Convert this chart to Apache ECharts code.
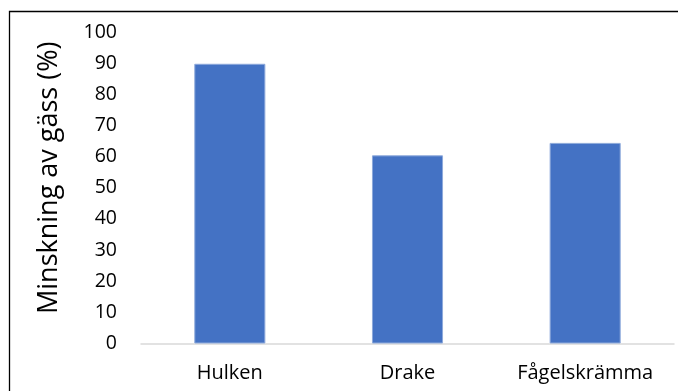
<!DOCTYPE html>
<html><head><meta charset="utf-8">
<script src="https://cdn.jsdelivr.net/npm/echarts@6/dist/echarts.min.js"></script>
<style>html,body{margin:0;padding:0;background:#fff}#c{width:678px;height:391px}</style>
</head><body><div id="c"></div>
<script>
const categories = ['Hulken', 'Drake', 'Fågelskrämma'];
const values = [89.8, 60.4, 64.4];
const yTitle = 'Minskning av gäss (%)';
const font = '"Open Sans", sans-serif';
const chart = echarts.init(document.getElementById('c'), null, {renderer: 'canvas'});
chart.setOption({
  animation: false,
  grid: {left: 141, right: 4, top: 32, bottom: 47.5},
  graphic: [{type: 'rect', shape: {x: 9.5, y: 11.5, width: 700, height: 420}, style: {fill: 'none', stroke: '#000', lineWidth: 1.3}, silent: true}],
  xAxis: {type: 'category', data: categories,
    axisLine: {lineStyle: {color: '#d9d9d9', width: 1.5}},
    axisTick: {show: false},
    axisLabel: {fontFamily: font, fontSize: 20, color: '#000', margin: 20}},
  yAxis: {type: 'value', min: 0, max: 100, interval: 10,
    name: yTitle, nameLocation: 'middle', nameGap: 78,
    nameTextStyle: {fontFamily: font, fontSize: 27, color: '#000', padding: [0, 0, 0, 20]},
    axisLine: {show: false}, axisTick: {show: false}, splitLine: {show: false},
    axisLabel: {fontFamily: font, fontSize: 19.5, color: '#000', margin: 24}},
  series: [{type: 'bar', data: values, barWidth: '40%',
    itemStyle: {color: '#4472c4', borderColor: '#8eaadb', borderWidth: 1}}]
});
</script></body></html>
